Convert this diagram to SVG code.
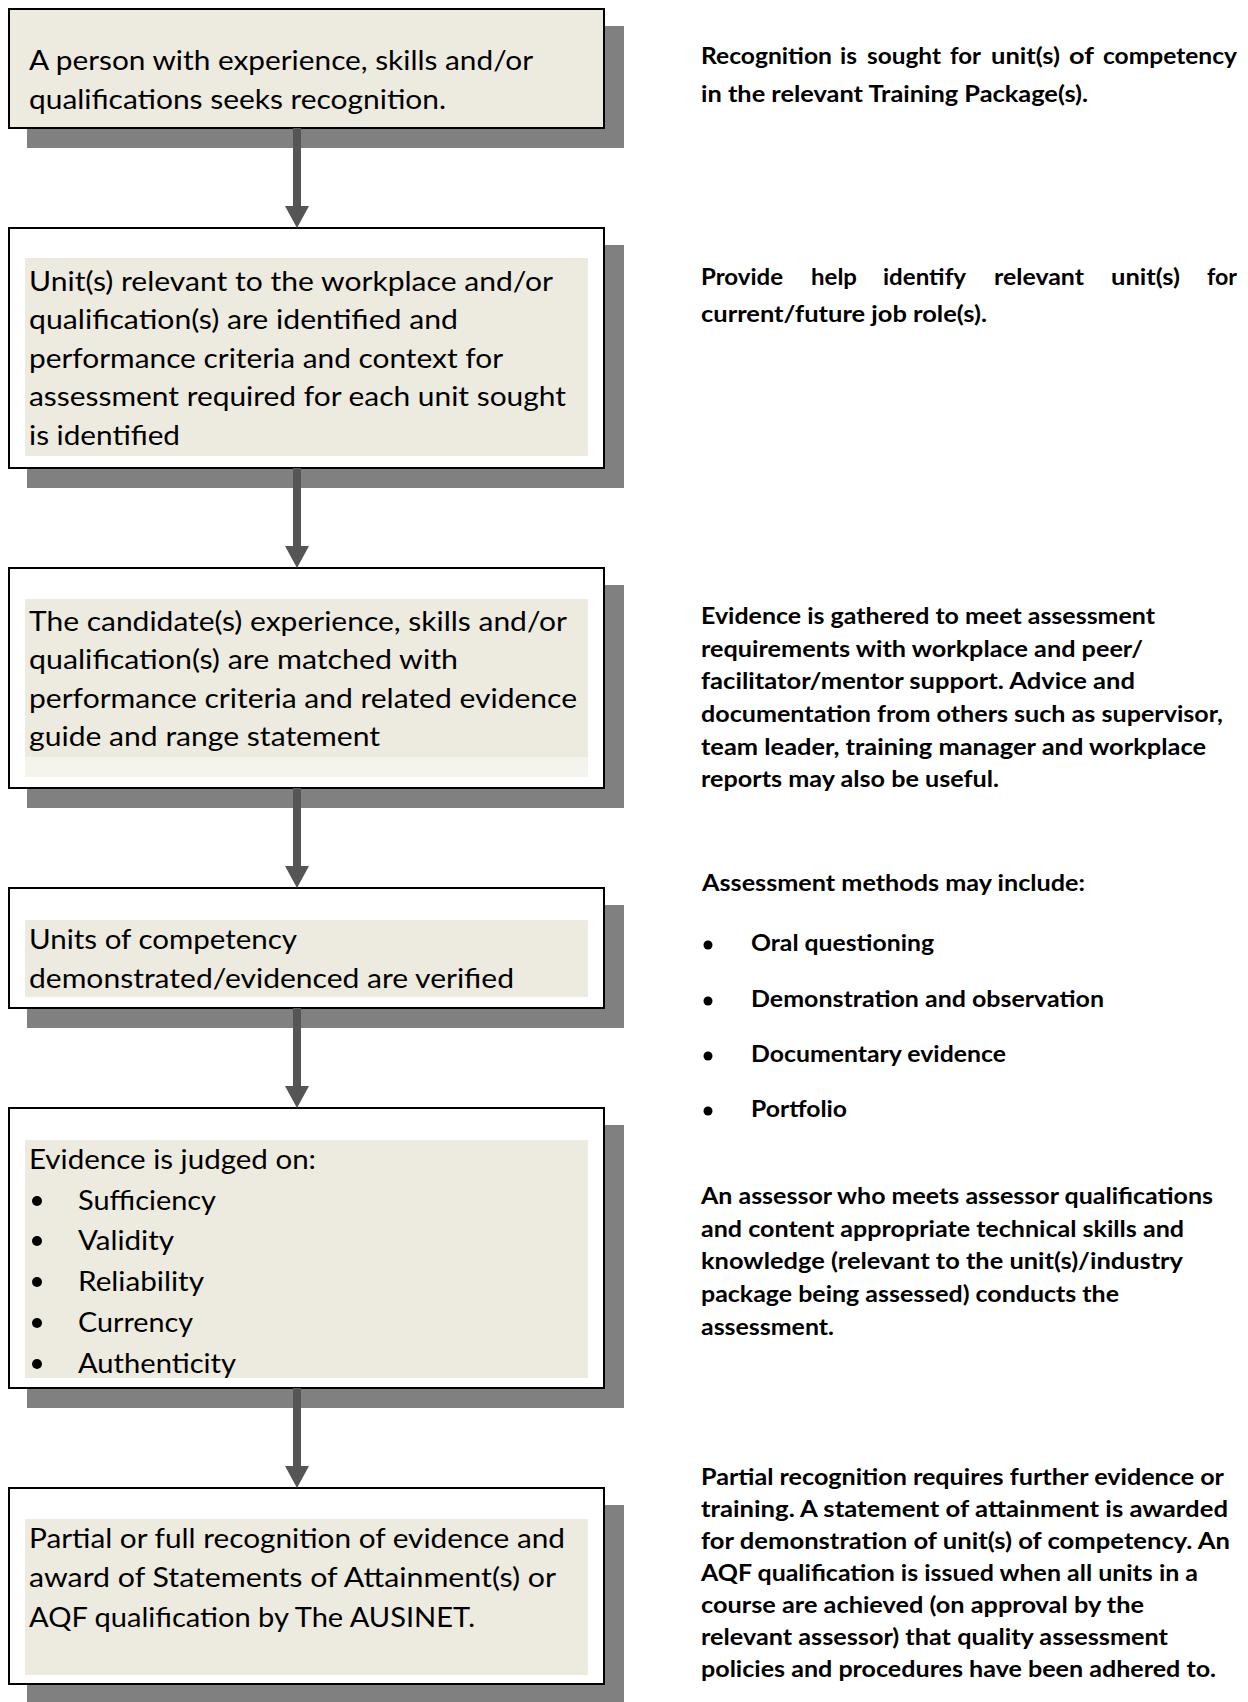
<svg xmlns="http://www.w3.org/2000/svg" width="1248" height="1702" viewBox="0 0 1248 1702">
<style>
.shadow{fill:#808080}
.box{stroke:#000;stroke-width:2}
.beige{fill:#EDEAE0}
.white{fill:#fff}
.t{font-family:Lato,"Liberation Sans",sans-serif;font-size:27px;fill:#000}
.r{font-family:Lato,"Liberation Sans",sans-serif;font-size:22px;font-weight:700;fill:#000}
.dot{fill:#000}
.conn{stroke:#555;stroke-width:8;fill:none}
</style>
<defs>
<marker id="ah" viewBox="0 0 22 24" markerWidth="22" markerHeight="24" refX="0" refY="12" orient="auto" markerUnits="userSpaceOnUse">
<path d="M0,0 L22,12 L0,24 z" fill="#555"/>
</marker>
<clipPath id="clip5"><rect x="25" y="1140" width="563" height="238"/></clipPath>
</defs>
<rect width="1248" height="1702" fill="#fff"/>

<g id="node1">
<rect class="shadow" x="27" y="26" width="597" height="122"/>
<rect class="box beige" x="9" y="9" width="595" height="119"/>
<text class="t" x="29" y="70" textLength="504" lengthAdjust="spacingAndGlyphs">A person with experience, skills and/or</text>
<text class="t" x="29" y="109" textLength="417" lengthAdjust="spacingAndGlyphs">qualifications seeks recognition.</text>
</g>

<g id="node2">
<rect class="shadow" x="27" y="245" width="597" height="243"/>
<rect class="box white" x="9" y="228" width="595" height="240"/>
<rect class="beige" x="25" y="258" width="563" height="198"/>
<text class="t" x="29" y="291" textLength="524" lengthAdjust="spacingAndGlyphs">Unit(s) relevant to the workplace and/or</text>
<text class="t" x="29" y="329" textLength="429" lengthAdjust="spacingAndGlyphs">qualification(s) are identified and</text>
<text class="t" x="29" y="368" textLength="474" lengthAdjust="spacingAndGlyphs">performance criteria and context for</text>
<text class="t" x="29" y="406" textLength="537" lengthAdjust="spacingAndGlyphs">assessment required for each unit sought</text>
<text class="t" x="29" y="445" textLength="151" lengthAdjust="spacingAndGlyphs">is identified</text>
</g>

<g id="node3">
<rect class="shadow" x="27" y="585" width="597" height="223"/>
<rect class="box white" x="9" y="568" width="595" height="220"/>
<rect class="beige" x="25" y="599" width="563" height="158"/>
<rect fill="#F4F3EE" x="25" y="757" width="563" height="20"/>
<text class="t" x="29" y="631" textLength="538" lengthAdjust="spacingAndGlyphs">The candidate(s) experience, skills and/or</text>
<text class="t" x="29" y="669" textLength="429" lengthAdjust="spacingAndGlyphs">qualification(s) are matched with</text>
<text class="t" x="29" y="708" textLength="548" lengthAdjust="spacingAndGlyphs">performance criteria and related evidence</text>
<text class="t" x="29" y="746" textLength="351" lengthAdjust="spacingAndGlyphs">guide and range statement</text>
</g>

<g id="node4">
<rect class="shadow" x="27" y="905" width="597" height="123"/>
<rect class="box white" x="9" y="888" width="595" height="120"/>
<rect class="beige" x="25" y="920" width="563" height="77"/>
<text class="t" x="29" y="949" textLength="268" lengthAdjust="spacingAndGlyphs">Units of competency</text>
<text class="t" x="29" y="988" textLength="485" lengthAdjust="spacingAndGlyphs">demonstrated/evidenced are verified</text>
</g>

<g id="node5">
<rect class="shadow" x="27" y="1125" width="597" height="283"/>
<rect class="box white" x="9" y="1108" width="595" height="280"/>
<rect class="beige" x="25" y="1140" width="563" height="238"/>
<g clip-path="url(#clip5)">
<text class="t" x="29" y="1169" textLength="287" lengthAdjust="spacingAndGlyphs">Evidence is judged on:</text>
<circle class="dot" cx="37" cy="1201" r="5"/>
<text class="t" x="78" y="1210" textLength="138" lengthAdjust="spacingAndGlyphs">Sufficiency</text>
<circle class="dot" cx="37" cy="1241" r="5"/>
<text class="t" x="78" y="1250" textLength="96" lengthAdjust="spacingAndGlyphs">Validity</text>
<circle class="dot" cx="37" cy="1282" r="5"/>
<text class="t" x="78" y="1291" textLength="126" lengthAdjust="spacingAndGlyphs">Reliability</text>
<circle class="dot" cx="37" cy="1323" r="5"/>
<text class="t" x="78" y="1332" textLength="115" lengthAdjust="spacingAndGlyphs">Currency</text>
<circle class="dot" cx="37" cy="1364" r="5"/>
<text class="t" x="78" y="1373" textLength="158" lengthAdjust="spacingAndGlyphs">Authenticity</text>
</g>
</g>

<g id="node6">
<rect class="shadow" x="27" y="1505" width="597" height="197"/>
<rect class="box white" x="9" y="1488" width="595" height="196"/>
<rect class="beige" x="25" y="1519" width="563" height="156"/>
<text class="t" x="29" y="1548" textLength="536" lengthAdjust="spacingAndGlyphs">Partial or full recognition of evidence and</text>
<text class="t" x="29" y="1587" textLength="527" lengthAdjust="spacingAndGlyphs">award of Statements of Attainment(s) or</text>
<text class="t" x="29" y="1627" textLength="446" lengthAdjust="spacingAndGlyphs">AQF qualification by The AUSINET.</text>
</g>

<g id="connectors">
<line class="conn" x1="297" y1="128" x2="297" y2="206" marker-end="url(#ah)"/>
<line class="conn" x1="297" y1="468" x2="297" y2="546" marker-end="url(#ah)"/>
<line class="conn" x1="297" y1="788" x2="297" y2="866" marker-end="url(#ah)"/>
<line class="conn" x1="297" y1="1008" x2="297" y2="1086" marker-end="url(#ah)"/>
<line class="conn" x1="297" y1="1388" x2="297" y2="1466" marker-end="url(#ah)"/>
</g>

<g id="note1">
<text class="r" y="64"><tspan x="701" textLength="131" lengthAdjust="spacingAndGlyphs">Recognition</tspan><tspan x="840" textLength="17" lengthAdjust="spacingAndGlyphs">is</tspan><tspan x="867" textLength="74" lengthAdjust="spacingAndGlyphs">sought</tspan><tspan x="950" textLength="31" lengthAdjust="spacingAndGlyphs">for</tspan><tspan x="991" textLength="69" lengthAdjust="spacingAndGlyphs">unit(s)</tspan><tspan x="1069" textLength="25" lengthAdjust="spacingAndGlyphs">of</tspan><tspan x="1103" textLength="134" lengthAdjust="spacingAndGlyphs">competency</tspan></text>
<text class="r" x="701" y="102" textLength="387" lengthAdjust="spacingAndGlyphs">in the relevant Training Package(s).</text>
</g>

<g id="note2">
<text class="r" y="285"><tspan x="701" textLength="82" lengthAdjust="spacingAndGlyphs">Provide</tspan><tspan x="811" textLength="46" lengthAdjust="spacingAndGlyphs">help</tspan><tspan x="883" textLength="83" lengthAdjust="spacingAndGlyphs">identify</tspan><tspan x="994" textLength="90" lengthAdjust="spacingAndGlyphs">relevant</tspan><tspan x="1111" textLength="69" lengthAdjust="spacingAndGlyphs">unit(s)</tspan><tspan x="1207" textLength="30" lengthAdjust="spacingAndGlyphs">for</tspan></text>
<text class="r" x="701" y="322" textLength="286" lengthAdjust="spacingAndGlyphs">current/future job role(s).</text>
</g>

<g id="note3">
<text class="r" x="701" y="624" textLength="454" lengthAdjust="spacingAndGlyphs">Evidence is gathered to meet assessment</text>
<text class="r" x="701" y="657" textLength="442" lengthAdjust="spacingAndGlyphs">requirements with workplace and peer/</text>
<text class="r" x="701" y="689" textLength="434" lengthAdjust="spacingAndGlyphs">facilitator/mentor support.  Advice and</text>
<text class="r" x="701" y="722" textLength="522" lengthAdjust="spacingAndGlyphs">documentation from others such as supervisor,</text>
<text class="r" x="701" y="755" textLength="505" lengthAdjust="spacingAndGlyphs">team leader, training manager and workplace</text>
<text class="r" x="701" y="787" textLength="298" lengthAdjust="spacingAndGlyphs">reports may also be useful.</text>
</g>

<g id="note4">
<text class="r" x="702" y="891" textLength="383" lengthAdjust="spacingAndGlyphs">Assessment methods may include:</text>
<circle class="dot" cx="708" cy="945" r="4.5"/>
<text class="r" x="751" y="951" textLength="183" lengthAdjust="spacingAndGlyphs">Oral questioning</text>
<circle class="dot" cx="708" cy="1001" r="4.5"/>
<text class="r" x="751" y="1007" textLength="353" lengthAdjust="spacingAndGlyphs">Demonstration and observation</text>
<circle class="dot" cx="708" cy="1056" r="4.5"/>
<text class="r" x="751" y="1062" textLength="255" lengthAdjust="spacingAndGlyphs">Documentary evidence</text>
<circle class="dot" cx="708" cy="1111" r="4.5"/>
<text class="r" x="751" y="1117" textLength="96" lengthAdjust="spacingAndGlyphs">Portfolio</text>
</g>

<g id="note5">
<text class="r" x="701" y="1204" textLength="512" lengthAdjust="spacingAndGlyphs">An assessor who meets assessor qualifications</text>
<text class="r" x="701" y="1237" textLength="483" lengthAdjust="spacingAndGlyphs">and content appropriate technical skills and</text>
<text class="r" x="701" y="1269" textLength="482" lengthAdjust="spacingAndGlyphs">knowledge (relevant to the unit(s)/industry</text>
<text class="r" x="701" y="1302" textLength="418" lengthAdjust="spacingAndGlyphs">package being assessed) conducts the</text>
<text class="r" x="701" y="1335" textLength="133" lengthAdjust="spacingAndGlyphs">assessment.</text>
</g>

<g id="note6">
<text class="r" x="701" y="1485" textLength="523" lengthAdjust="spacingAndGlyphs">Partial recognition requires further evidence or</text>
<text class="r" x="701" y="1517" textLength="527" lengthAdjust="spacingAndGlyphs">training.  A statement of attainment is awarded</text>
<text class="r" x="701" y="1549" textLength="529" lengthAdjust="spacingAndGlyphs">for demonstration of unit(s) of competency.  An</text>
<text class="r" x="701" y="1581" textLength="497" lengthAdjust="spacingAndGlyphs">AQF qualification is issued when all units in a</text>
<text class="r" x="701" y="1613" textLength="443" lengthAdjust="spacingAndGlyphs">course are achieved (on approval by the</text>
<text class="r" x="701" y="1645" textLength="467" lengthAdjust="spacingAndGlyphs">relevant assessor) that quality assessment</text>
<text class="r" x="701" y="1677" textLength="515" lengthAdjust="spacingAndGlyphs">policies and procedures have been adhered to.</text>
</g>
</svg>
